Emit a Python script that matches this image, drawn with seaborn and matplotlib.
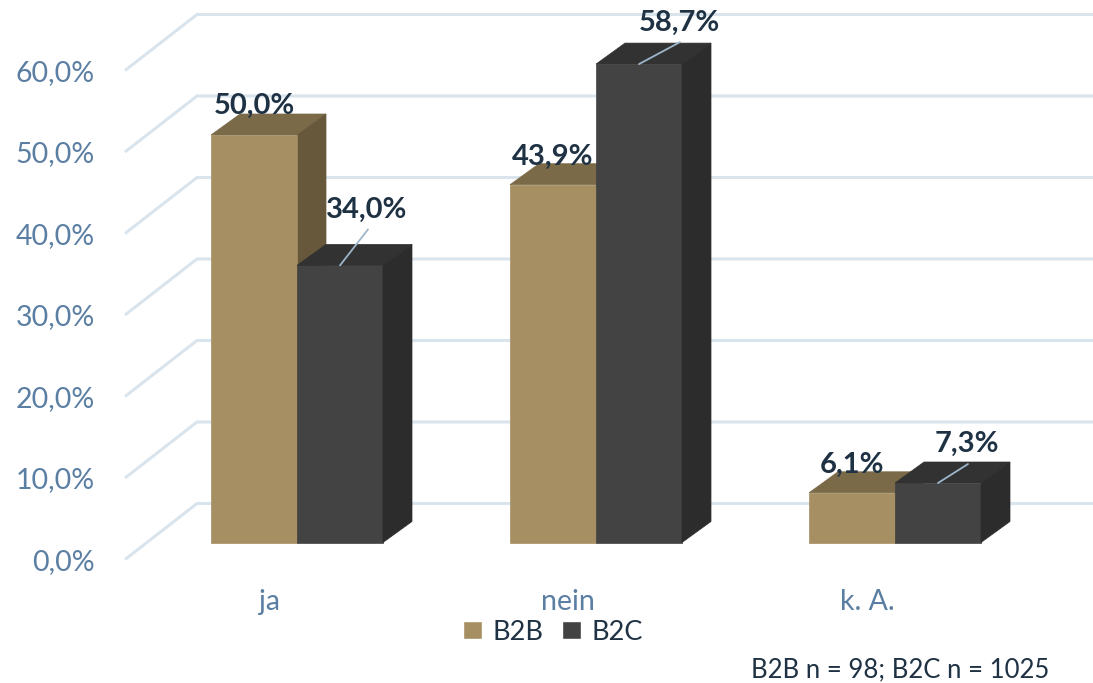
import matplotlib
matplotlib.use('Agg')
import matplotlib.pyplot as plt
import pandas as pd
import seaborn as sns
from matplotlib.patches import Polygon
from matplotlib.transforms import ScaledTranslation

categories = ['ja', 'nein', 'k. A.']
b2b = [50.0, 43.9, 6.1]
b2c = [34.0, 58.7, 7.3]
tick_values = [0, 10, 20, 30, 40, 50, 60]
footnote = 'B2B n = 98; B2C n = 1025'

W, H = 1093, 683
PX_X = 299.0   # pixel je Kategorie
PX_Y = 8.15    # pixel je Prozent
DEPTH_X = 29 / PX_X
DEPTH_Y = 21 / PX_Y

colors = {'B2B': ('#A58F63', '#7B6A48', '#67583C'),
          'B2C': ('#434343', '#323232', '#2C2C2C')}
axis_col = '#5B7FA3'
dark_text = '#1F3244'
grid_col = '#DAE4ED'
leader_col = '#9DB6CC'

sns.set_theme(style='white')
plt.rcParams['font.family'] = ['Lato', 'DejaVu Sans']

df = pd.DataFrame({'cat': categories * 2,
                   'wert': b2b + b2c,
                   'gruppe': ['B2B'] * 3 + ['B2C'] * 3})

fig = plt.figure(figsize=(W / 100, H / 100), dpi=100)
left, bottom_px, base_px, center_px = 110, 578, 542.5, 297
ax = fig.add_axes([left / W, 1 - bottom_px / H, 1 - left / W, bottom_px / H])

sns.barplot(data=df, x='cat', y='wert', hue='gruppe', order=categories,
            palette={k: v[0] for k, v in colors.items()}, width=172 / PX_X,
            gap=0, saturation=1, errorbar=None, ax=ax, zorder=3)

ax.set_xlim((left - center_px) / PX_X, (W - center_px) / PX_X)
ax.set_ylim((base_px - bottom_px) / PX_Y, base_px / PX_Y)
ax.set_xlabel('')
ax.set_ylabel('')
sns.despine(ax=ax, left=True, bottom=True, right=True, top=True)

# Rueckwand und Seitenwand
front_shift = -17 / PX_Y
back_shift = 39 / PX_Y
x_front = ax.get_xlim()[0] + 15 / PX_X
x_back = ax.get_xlim()[0] + 87 / PX_X
for v in tick_values:
    ax.plot([x_front, x_back, ax.get_xlim()[1]],
            [v + front_shift, v + back_shift, v + back_shift],
            color=grid_col, lw=2.2, zorder=0, solid_capstyle='butt',
            solid_joinstyle='miter', clip_on=False)

ax.set_yticks([v + front_shift for v in tick_values])
ax.set_yticklabels([f'{v:.1f}%'.replace('.', ',') for v in tick_values])
ax.tick_params(axis='y', length=0, pad=11, labelsize=20.5, labelcolor=axis_col)
ax.tick_params(axis='x', length=0, pad=8, labelsize=20.5, labelcolor=axis_col)
for lab in ax.get_xticklabels():
    lab.set_transform(lab.get_transform() + ScaledTranslation(-0.28, 0, fig.dpi_scale_trans))

# 3D-Seiten an die Balken anbauen
label_shift = {'B2B': [(0, 29), (0, 28), (0, 28)],
               'B2C': [(27, 56), (40, 41), (29, 39)]}
leader_end = [(28, 36), (41, 22), (30, 19)]
for gruppe, cont in zip(['B2B', 'B2C'], ax.containers):
    front, top_col, side_col = colors[gruppe]
    z = 1.5 if gruppe == 'B2B' else 3.2
    for i, bar in enumerate(cont):
        x0, w, h = bar.get_x(), bar.get_width(), bar.get_height()
        bar.set_edgecolor(front)
        bar.set_linewidth(0.5)
        ax.add_patch(Polygon([(x0, h), (x0 + w, h), (x0 + w + DEPTH_X, h + DEPTH_Y), (x0 + DEPTH_X, h + DEPTH_Y)],
                             closed=True, fc=top_col, ec=top_col, lw=0.5, zorder=z))
        ax.add_patch(Polygon([(x0 + w, 0), (x0 + w + DEPTH_X, DEPTH_Y), (x0 + w + DEPTH_X, h + DEPTH_Y), (x0 + w, h)],
                             closed=True, fc=side_col, ec=side_col, lw=0.5, zorder=z))
        dx, dy = label_shift[gruppe][i]
        cx = x0 + w / 2
        ax.text(cx + dx / PX_X, h + dy / PX_Y, f'{h:.1f}%'.replace('.', ','),
                ha='center', va='center', fontsize=21, fontweight='bold',
                color=dark_text, zorder=6, clip_on=False)
        if gruppe == 'B2C':
            ex, ey = leader_end[i]
            ax.plot([cx, cx + ex / PX_X], [h, h + ey / PX_Y], color=leader_col, lw=1.3, zorder=5)

sns.move_legend(ax, 'center', bbox_to_anchor=(553 / W, 1 - 632 / H),
                bbox_transform=fig.transFigure, ncol=2, frameon=False, title=None,
                fontsize=19.5, labelcolor=dark_text, handlelength=0.68, handleheight=0.68,
                handletextpad=0.4, columnspacing=0.7)

fig.text(751 / W, 1 - 670 / H, footnote, ha='left', va='center', fontsize=18.5, color=dark_text)

fig.savefig('out.png', dpi=100)
